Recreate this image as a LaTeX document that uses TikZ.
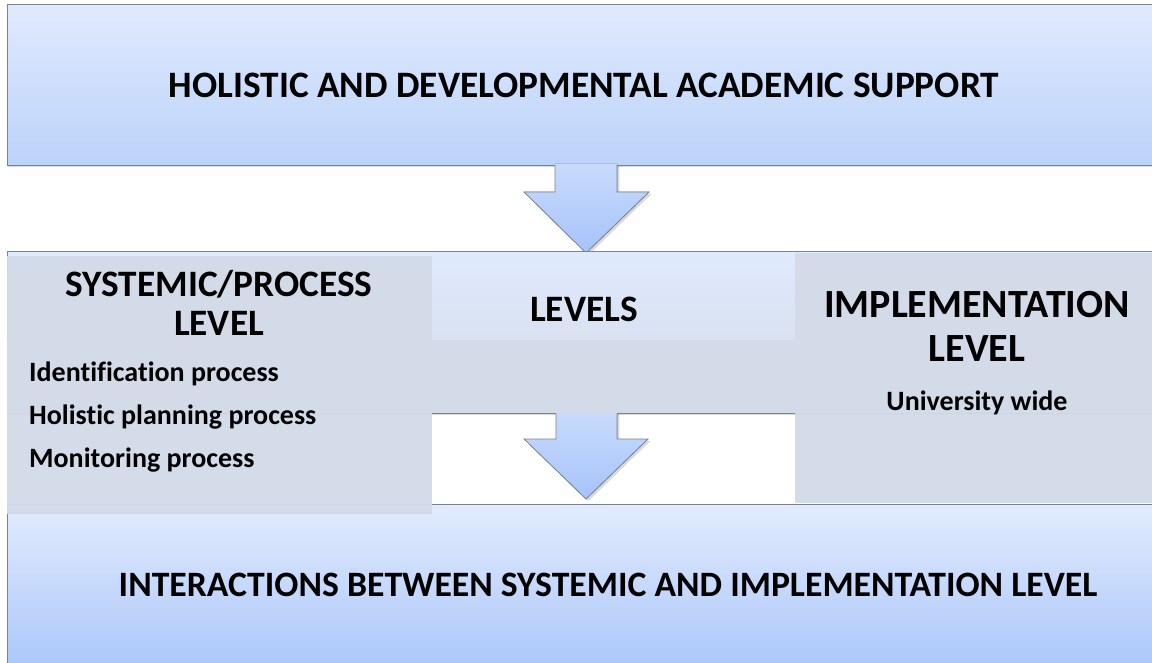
\documentclass[tikz,border=0pt]{standalone}
\usepackage{fontspec}
\setmainfont{Carlito}[Ligatures=NoCommon]
\usetikzlibrary{positioning,shadows}
\definecolor{boxtop}{HTML}{E0EAFD}
\definecolor{boxbot}{HTML}{BBD2FA}
\definecolor{lowbot}{HTML}{A9C5FA}
\definecolor{graypanel}{HTML}{D3DAE8}
\definecolor{arrowtop}{HTML}{C8DBFC}
\definecolor{arrowbot}{HTML}{A6C3F9}
\definecolor{edgegray}{HTML}{7D838E}

\begin{document}
\begin{tikzpicture}[x=1pt, y=-1pt,
    bandbox/.style={draw=edgegray, line width=0.8pt, top color=boxtop, bottom color=boxbot, inner sep=0pt, anchor=north west,
      drop shadow={opacity=0.3, shadow xshift=0.5pt, shadow yshift=-2pt}},
    panel/.style={fill=graypanel, fill opacity=0.95, draw=none, inner sep=0pt, anchor=north west},
    headtext/.style={font=\bfseries\fontsize{37.3}{39}\selectfont, align=center, inner sep=0pt},
    itemtext/.style={font=\bfseries\fontsize{28}{30}\selectfont, inner sep=0pt},
    arrowfill/.style={top color=arrowtop, bottom color=arrowbot, draw=none},
    arrowline/.style={draw=edgegray, line width=0.8pt, line join=miter}]
    \useasboundingbox (0,0) rectangle (1152,663);

    % top box and first arrow
    \node[bandbox, minimum width=1160pt, minimum height=161pt] (supportbox) at (7,4) {};
    \coordinate (firsttip) at (586,253);
    \fill[arrowfill, drop shadow={opacity=0.3, shadow yshift=-2pt}] (555,164) -- (555,192) -- (524,192) -- (firsttip) -- (649,192) -- (617,192) -- (617,164) -- cycle;
    \draw[arrowline] (555,165) -- (555,192) -- (524,192) -- (firsttip) -- (649,192) -- (617,192) -- (617,165);

    % levels band
    \node[bandbox, minimum width=1160pt, minimum height=162pt, top color=boxtop, bottom color=graypanel] (levelsbox) at (7,251) {};
    \node[bandbox, minimum width=1160pt, minimum height=170pt, top color=boxtop!95!white, bottom color=lowbot] (interbox) at (7,504) {};

    % second arrow
    \coordinate (secondtip) at (586,499);
    \fill[arrowfill, drop shadow={opacity=0.3, shadow yshift=-2pt}] (556,412) -- (556,439) -- (524,439) -- (secondtip) -- (648,439) -- (617,439) -- (617,412) -- cycle;
    \draw[arrowline] (556,414) -- (556,439) -- (524,439) -- (secondtip) -- (648,439) -- (617,439) -- (617,414);

    % gray panels
    \node[panel, minimum width=1160pt, minimum height=73pt] (midpanel) at (7,340) {};
    \node[panel, minimum width=425pt, minimum height=258pt] (systemicpanel) at (7,256) {};
    \node[panel, minimum width=365pt, minimum height=250pt] (implpanel) at (795,253) {};

    % texts
    \node[headtext] (supporttext) at (584,85) {HOLISTIC AND DEVELOPMENTAL ACADEMIC SUPPORT};
    \node[headtext] (levelstext) at (584,309) {LEVELS};
    \node[headtext] (systemictext) at (219,303) {SYSTEMIC/PROCESS\\LEVEL};
    \node[itemtext, anchor=west] (identtext) at (29,374) {Identification process};
    \node[itemtext, anchor=west] (plantext) at (29,417) {Holistic planning process};
    \node[itemtext, anchor=west] (monitext) at (29,460) {Monitoring process};
    \node[headtext, font=\bfseries\fontsize{40}{44}\selectfont] (impltext) at (977,326) {IMPLEMENTATION\\LEVEL};
    \node[itemtext] (widetext) at (977,403) {University wide};
    \node[headtext, font=\bfseries\fontsize{35.7}{38}\selectfont] (intertext) at (608,585) {INTERACTIONS BETWEEN SYSTEMIC AND IMPLEMENTATION LEVEL};
\end{tikzpicture}
\end{document}
